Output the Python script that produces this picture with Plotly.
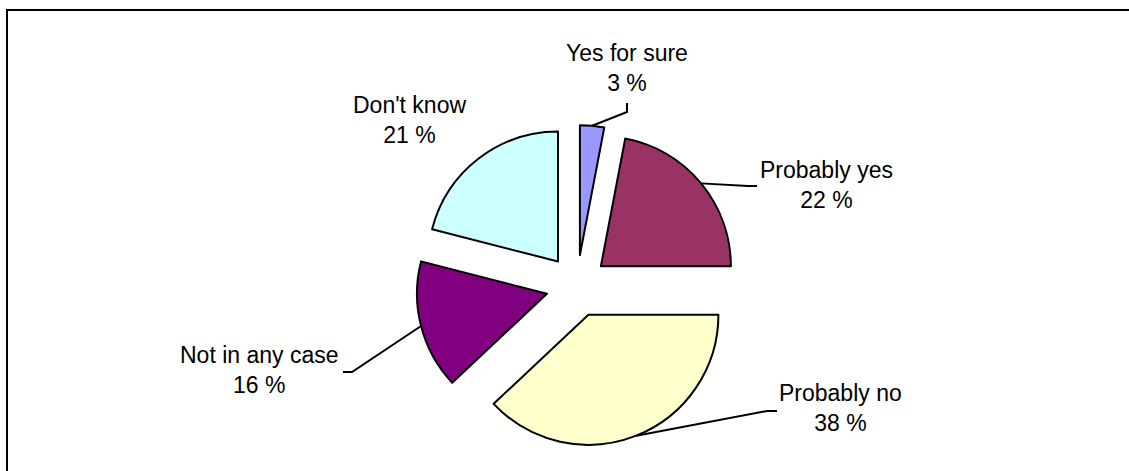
import math
import plotly.graph_objects as go

# ---- data ----
categories = ["Yes for sure", "Probably yes", "Probably no", "Not in any case", "Don't know"]
values = [3, 22, 38, 16, 21]
pct_labels = ["3 %", "22 %", "38 %", "16 %", "21 %"]

# ---- styles / layout ----
colors = ["#9999FF", "#993366", "#FFFFCC", "#800080", "#CCFFFF"]
W, H = 1129, 471
CX, CY = 577, 286          # pie centre (px)
R = 130                    # radius (px)
D = 31                     # explode distance (px)
PULL = D / R
FONT = "Liberation Sans, Arial, sans-serif"
FS = 23
# label centre x, midpoint of the two baselines (px)
label_pos = [(627, 76.5), (826, 193.5), (840, 416.5), (259, 378), (409, 128)]
# leader line elbow and end (px); None = no leader
leader_pts = [((627, 112), (627, 103)),
              ((748, 186), (757, 186)),
              ((767, 411), (777, 411)),
              ((352, 372), (343, 372)),
              None]

def px(x):
    return x / W

def py(y):
    return 1 - y / H

S = 2 * (R + D)
fig = go.Figure(go.Pie(
    labels=categories, values=values, sort=False, direction="clockwise", rotation=0,
    pull=[PULL] * len(values), textinfo="none", hoverinfo="label+percent",
    marker=dict(colors=colors, line=dict(color="black", width=2)),
    domain=dict(x=[px(CX - S / 2), px(CX + S / 2)], y=[py(CY + S / 2), py(CY - S / 2)]),
    showlegend=False,
))

total = sum(values)
cum = 0
shapes = []
annotations = []
for i, v in enumerate(values):
    mid = 2 * math.pi * (cum + v / 2) / total
    cum += v
    ax = CX + (R + D) * math.sin(mid)
    ay = CY - (R + D) * math.cos(mid)
    if leader_pts[i] is not None:
        (ex, ey), (fx, fy) = leader_pts[i]
        path = f"M {px(ax)} {py(ay)} L {px(ex)} {py(ey)} L {px(fx)} {py(fy)}"
        shapes.append(dict(type="path", xref="paper", yref="paper", path=path,
                           line=dict(color="black", width=2)))
    lx, ly = label_pos[i]
    annotations.append(dict(
        text=f"{categories[i]}<br>{pct_labels[i]}", x=px(lx), y=py(ly - 0.35 * FS),
        xref="paper", yref="paper", xanchor="center", yanchor="middle",
        showarrow=False, align="center", font=dict(family=FONT, size=FS, color="black")))

# chart border (left and top visible; right/bottom lie outside the page)
shapes.append(dict(type="rect", xref="paper", yref="paper",
                   x0=px(7), x1=px(W + 60), y0=py(H + 60), y1=py(10),
                   fillcolor="rgba(0,0,0,0)", line=dict(color="black", width=2)))

fig.update_layout(width=W, height=H, margin=dict(l=0, r=0, t=0, b=0),
                  paper_bgcolor="white", plot_bgcolor="white",
                  shapes=shapes, annotations=annotations)
fig.write_html("out.html")
